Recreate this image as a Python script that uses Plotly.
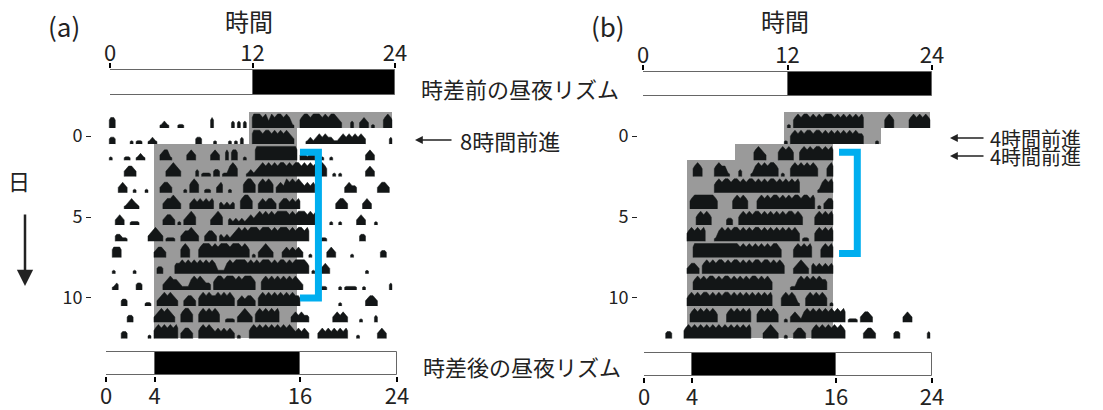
import plotly.graph_objects as go

W, H = 1103, 410
FONT = "Noto Sans CJK JP"

# ---------------- data ----------------
days = [-1, 0, 1, 2, 3, 4, 5, 6, 7, 8, 9, 10, 11, 12]
day_ticks = [0, 5, 10]
top_ticks = [0, 12, 24]
bottom_ticks = [0, 4, 16, 24]

# light/dark schedule bars (hours)
ld_before_start = [0, 12]
ld_before_end = [12, 24]
ld_before_color = ["white", "black"]
ld_after_start = [0, 4, 16]
ld_after_end = [4, 16, 24]
ld_after_color = ["white", "black", "white"]

# dark period per day (gray shading), days -1..12
night_start_a = [12, 12, 4, 4, 4, 4, 4, 4, 4, 4, 4, 4, 4, 4]
night_end_a = [24, 16, 16, 16, 16, 16, 16, 16, 16, 16, 16, 16, 16, 16]
night_start_b = [12, 12, 8, 4, 4, 4, 4, 4, 4, 4, 4, 4, 4, 4]
night_end_b = [24, 20, 16, 16, 16, 16, 16, 16, 16, 16, 16, 16, 16, 16]

# activity: per day, runs "startBin:levels" (bin = 0.25 h, level 0-4)
activity_a = [
    "1:33 18:121 24:11 35:3 42:2 44:2 46:2 49:4443424344343 62:1 65:34434443434432 82:2 85:232 89:1 93:343",
    "1:22 8:1 10:11 14:121 30:22 36:1 41:1 43:1 45:2 49:444344343434 61:32 67:121 70:232322 76:11 78:232323232 95:2",
    "1:1 6:11 10:121 18:233 21:1 27:232 35:232 40:303 43:3 46:1 50:44444444444444 65:22122 72:1 75:1 87:232",
    "6:2332 20:23432 30:2 32:111 36:22 39:11 41:343 47:1212 51:34343434434344343434443 76:1 78:1 87:232",
    "4:232 9:1 13:1 18:2332 26:1 28:343 33:11 37:23 41:1 46:3443 51:34343 57:2324343432323 80:2322 91:2332",
    "6:12321 19:233432 28:23232323 38:21212 45:3443 51:232332 58:2332323 77:2332 86:232",
    "3:232 8:111 19:2332 24:1 26:2343 35:2343 41:212121232 50:343434344443434443434 75:1 78:1 84:232 90:1",
    "3:22 5:11 14:23432 20:111 25:233432 33:2332 38:21212 43:3434344434443434443434434 72:11 85:22",
    "2:333 16:2332 25:343 31:34443434443444343 49:1 51:23432 59:2323232 68:1 74:232 82:1 92:22",
    "2:1 9:1 17:22 23:33434343434343 37:111 40:3434444343434443434434344443 69:1 72:232 87:1",
    "2:12 10:22 19:234332 25:111 28:34343 33:22 36:34434443434443 52:34343434343432 72:11 78:1 80:1111 86:1 95:2",
    "5:22 13:11 17:2343432 26:2332 31:34343 36:3434343 44:232332 51:34343434343433 78:1 87:2332",
    "7:22 16:2343432 25:3443 31:3434343 40:111 44:23432 50:34343434 62:232322 76:23232 85:1 90:2",
    "5:22 14:1 16:34343434 25:2332 31:34343 36:2323232 44:1 48:343434343434343 63:23232 71:2323232323 84:1 91:232",
]
activity_b = [
    "49:1 51:34344343434443434343434 81:343 89:3434343",
    "48:1 50:343434434434343434343433 78:1",
    "38:343 41:2 46:34343 53:34343443434",
    "18:343 25:3433 29:1 33:2 37:1 38:34343443 47:1 50:343434343 62:34",
    "25:3434434434344343434434343434 59:1 60:3434",
    "17:344444443 31:34343 39:3434344343434434434 59:1 61:233",
    "19:34343 29:22 33:343434434343434344343 58:343434",
    "16:343434 25:1 26:343434434343443434343434343 54:11 58:343434",
    "18:444444444444444 33:34343434343443 51:343434 60:3434",
    "16:2332 21:343434434344343434434434343 51:23432 57:3232323",
    "18:34343443434434343434434343 50:11 52:3434343433",
    "16:3434344343434434343434343434 47:34343 52:1 55:3434343 63:1",
    "17:343434343 29:34343434 39:3434343 48:1 50:232 53:1 54:34343434343434 69:111 73:2332 87:232",
    "9:22 15:3434343434343434343434 41:23432 48:1 51:2332 57:34343434343 74:2332 84:22 95:2",
]

# blue brackets (hours, days)
bracket_a_hours = [16.25, 17.8]
bracket_a_days = [1, 10]
bracket_b_hours = [16.5, 18.0]
bracket_b_days = [1, 7.25]

# ---------------- styling ----------------
BIN = 0.25
LEVEL_H = 0.215
GRAY = "#9a9a9a"
ACT = "#131617"
BLUE = "#00aeef"


def px(p):
    return p / W


def py(p):
    return 1 - p / H


def parse_row(row):
    levels = {}
    for tok in row.split():
        s, lv = tok.split(":")
        for i, ch in enumerate(lv):
            b = int(s) + i
            if ch != "0" and 0 <= b < 96:
                levels[b] = int(ch)
    return levels


def activity_trace(rows, xa, ya):
    xs, ys = [], []
    for day, row in zip(days, rows):
        levels = parse_row(row)
        base = day + 0.5
        b = 0
        while b < 96:
            if b in levels:
                xs += [b * BIN, b * BIN]
                ys += [base, base - 0.75 * levels[b] * LEVEL_H]
                last = levels[b]
                while b in levels:
                    xs.append((b + 0.5) * BIN)
                    ys.append(base - levels[b] * LEVEL_H)
                    last = levels[b]
                    b += 1
                xs += [b * BIN, b * BIN, None]
                ys += [base - 0.75 * last * LEVEL_H, base, None]
            else:
                b += 1
    return go.Scatter(x=xs, y=ys, mode="lines", fill="toself", fillcolor=ACT,
                      line=dict(color=ACT, width=0.5), connectgaps=False,
                      xaxis=xa, yaxis=ya, hoverinfo="skip")


def night_trace(starts, ends, xa, ya):
    return go.Bar(y=days, x=[e - s for s, e in zip(starts, ends)], base=starts,
                  orientation="h", width=1.0,
                  marker=dict(color=GRAY, line=dict(width=0)),
                  xaxis=xa, yaxis=ya, hoverinfo="skip")


def ld_trace(starts, ends, colors, xa, ya):
    return go.Bar(y=[0.5] * len(starts), x=[e - s for s, e in zip(starts, ends)],
                  base=starts, orientation="h", width=1.0,
                  marker=dict(color=colors, line=dict(color="#666", width=1)),
                  xaxis=xa, yaxis=ya, hoverinfo="skip")


def bracket_trace(hours, dd, xa, ya):
    h0, h1 = hours
    d0, d1 = dd
    return go.Scatter(x=[h0, h1, h1, h0], y=[d0, d0, d1, d1], mode="lines",
                      line=dict(color=BLUE, width=7), xaxis=xa, yaxis=ya,
                      hoverinfo="skip")


fig = go.Figure()
# panel a
fig.add_trace(night_trace(night_start_a, night_end_a, "x", "y"))
fig.add_trace(activity_trace(activity_a, "x", "y"))
fig.add_trace(bracket_trace(bracket_a_hours, bracket_a_days, "x", "y"))
fig.add_trace(ld_trace(ld_before_start, ld_before_end, ld_before_color, "x2", "y2"))
fig.add_trace(ld_trace(ld_after_start, ld_after_end, ld_after_color, "x3", "y3"))
# panel b
fig.add_trace(night_trace(night_start_b, night_end_b, "x4", "y4"))
fig.add_trace(activity_trace(activity_b, "x4", "y4"))
fig.add_trace(bracket_trace(bracket_b_hours, bracket_b_days, "x4", "y4"))
fig.add_trace(ld_trace(ld_before_start, ld_before_end, ld_before_color, "x5", "y5"))
fig.add_trace(ld_trace(ld_after_start, ld_after_end, ld_after_color, "x6", "y6"))

ACT_Y = [py(340.1), py(110.1)]
hidden = dict(visible=False, showgrid=False, zeroline=False, automargin=False)


def act_x(x0, x1, anchor):
    return dict(domain=[px(x0), px(x1)], range=[0, 24], anchor=anchor, **hidden)


def act_y(pos):
    return dict(domain=ACT_Y, range=[12.6, -1.6], anchor="free", position=px(pos),
                tickvals=day_ticks, ticks="outside", ticklen=5, tickwidth=1,
                tickcolor="#222", showline=False, showgrid=False, zeroline=False,
                automargin=False,
                tickfont=dict(size=18, color="#222", family=FONT))


def bar_x(x0, x1, anchor, side, ticks, standoff):
    return dict(domain=[px(x0), px(x1)], range=[0, 24], anchor=anchor, side=side,
                tickvals=ticks, ticks="outside", ticklen=5, tickwidth=2,
                tickcolor="black", showline=False, showgrid=False, zeroline=False,
                automargin=False, ticklabelstandoff=standoff,
                tickfont=dict(size=22, color="#222", family=FONT))


def bar_y(top, bottom):
    return dict(domain=[py(bottom), py(top)], range=[-0.03, 1.03], **hidden)


fig.update_layout(
    width=W, height=H, margin=dict(l=0, r=0, t=0, b=0, pad=0, autoexpand=False),
    paper_bgcolor="white", plot_bgcolor="rgba(0,0,0,0)",
    showlegend=False, barmode="overlay", bargap=0,
    font=dict(family=FONT, color="#222"),
    xaxis=act_x(106.3, 392.3, "y"), yaxis=act_y(91),
    xaxis2=bar_x(110, 395, "y2", "top", top_ticks, -7), yaxis2=bar_y(69, 96),
    xaxis3=bar_x(106, 397, "y3", "bottom", bottom_ticks, -4), yaxis3=bar_y(351, 376),
    xaxis4=act_x(638.3, 930.3, "y4"), yaxis4=act_y(637),
    xaxis5=bar_x(643, 932, "y5", "top", top_ticks, -7), yaxis5=bar_y(71, 97),
    xaxis6=bar_x(644, 932, "y6", "bottom", bottom_ticks, -4), yaxis6=bar_y(352, 376.5),
)

ann = []


def text(x, y, s, size, anchor="center"):
    ann.append(dict(x=px(x), y=py(y), xref="paper", yref="paper", text=s,
                    showarrow=False, xanchor=anchor, yanchor="middle",
                    font=dict(size=size, color="#222", family=FONT)))


def arrow(x, y, ax, ay, width, size):
    ann.append(dict(x=px(x), y=py(y), xref="paper", yref="paper", text="",
                    showarrow=True, ax=ax, ay=ay, arrowhead=2, arrowsize=size,
                    arrowwidth=width, arrowcolor="#222"))


text(64, 25, "(a)", 26)
text(608, 25, "(b)", 26)
text(249, 20, "時間", 24)
text(785, 20, "時間", 24)
text(19, 180, "日", 22)
arrow(25, 286, 0, -73, 2.5, 1.3)
text(520, 88, "時差前の昼夜リズム", 22)
text(522, 366, "時差後の昼夜リズム", 22)
arrow(415, 140, 38, 0, 1.3, 1.2)
text(458, 140, "8時間前進", 22, "left")
arrow(950, 138, 35, 0, 1.3, 1.2)
text(988, 138, "4時間前進", 20, "left")
arrow(950, 156, 35, 0, 1.3, 1.2)
text(988, 156, "4時間前進", 20, "left")

fig.update_layout(annotations=ann)
fig.write_html(
    "out.html",
    config={"displayModeBar": False},
    post_script="document.body.style.margin='0px';document.body.style.overflow='hidden';",
)
